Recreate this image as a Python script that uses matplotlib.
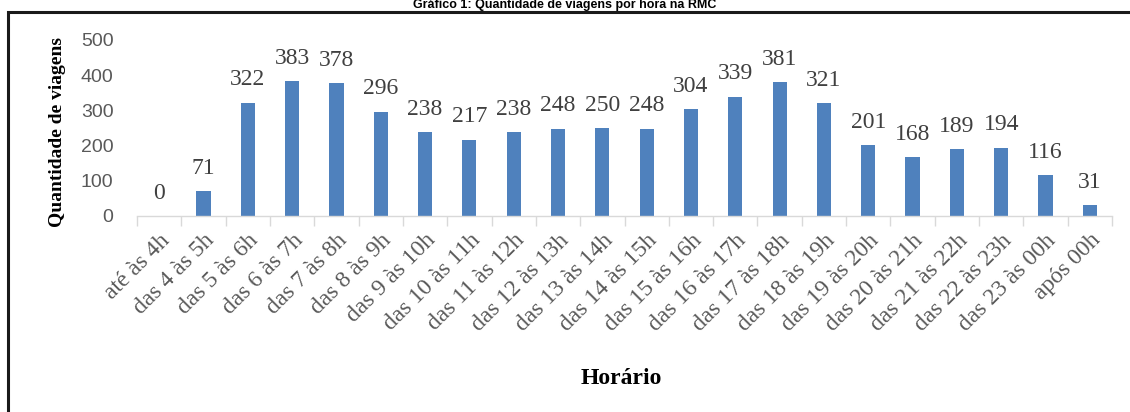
import matplotlib
matplotlib.use("Agg")
import matplotlib.pyplot as plt
from matplotlib.patches import Rectangle

# data
horarios = ["até às 4h", "das 4 às 5h", "das 5 às 6h", "das 6 às 7h", "das 7 às 8h",
            "das 8 às 9h", "das 9 às 10h", "das 10 às 11h", "das 11 às 12h",
            "das 12 às 13h", "das 13 às 14h", "das 14 às 15h", "das 15 às 16h",
            "das 16 às 17h", "das 17 às 18h", "das 18 às 19h", "das 19 às 20h",
            "das 20 às 21h", "das 21 às 22h", "das 22 às 23h", "das 23 às 00h",
            "após 00h"]
viagens = [0, 71, 322, 383, 378, 296, 238, 217, 238, 248, 250, 248, 304,
           339, 381, 321, 201, 168, 189, 194, 116, 31]
y_ticks = [0, 100, 200, 300, 400, 500]

W, H = 1130, 412
fig = plt.figure(figsize=(W / 100, H / 100), dpi=100)

# outer frame (right and bottom edges fall outside the picture)
fig.patches.append(Rectangle((8 / W, -0.1), 1.2, 1 - 12 / H + 0.1,
                             transform=fig.transFigure, fill=False,
                             edgecolor="#1a1a1a", linewidth=2.2))

fig.text(0.5, 1 - 8 / H, "Gráfico 1: Quantidade de viagens por hora na RMC",
         ha="center", va="baseline", fontsize=9, fontweight="bold",
         family="Liberation Sans")

ax = fig.add_axes([137 / W, 1 - 216 / H, 975 / W, 176 / H])
x = range(len(horarios))
ax.bar(x, viagens, width=0.32, color="#4F81BD")

for xi, v in zip(x, viagens):
    ax.annotate(str(v), (xi, v), xytext=(0, 12.5), textcoords="offset points",
                ha="center", va="baseline", fontsize=17, color="#404040",
                family="Liberation Serif")

ax.set_xlim(-0.5, len(horarios) - 0.5)
ax.set_ylim(0, 500)
ax.set_yticks(y_ticks)
ax.set_yticklabels([str(t) for t in y_ticks], family="Liberation Sans",
                   fontsize=14, color="#595959")
ax.tick_params(axis="y", length=0, pad=17)

# category boundary ticks on the x axis
ax.set_xticks([i - 0.5 for i in range(len(horarios) + 1)], minor=False)
ax.set_xticklabels([])
ax.tick_params(axis="x", which="major", length=7, color="#D9D9D9", width=1)
ax.set_xticks(list(x), minor=True)
ax.set_xticklabels(horarios, minor=True, rotation=45, ha="right",
                   va="top", rotation_mode="anchor", family="Liberation Serif",
                   fontsize=17, color="#595959")
ax.tick_params(axis="x", which="minor", length=0, pad=10)

for side in ["top", "right", "left"]:
    ax.spines[side].set_visible(False)
ax.spines["bottom"].set_color("#D9D9D9")
ax.spines["bottom"].set_linewidth(1)

fig.text(57 / W, 1 - 132 / H, "Quantidade de viagens", rotation=90,
         ha="center", va="center", fontsize=14, fontweight="bold",
         family="Liberation Serif")
fig.text(621 / W, 1 - 378 / H, "Horário", ha="center", va="center",
         fontsize=17, fontweight="bold", family="Liberation Serif")

fig.savefig("out.png", dpi=100)
